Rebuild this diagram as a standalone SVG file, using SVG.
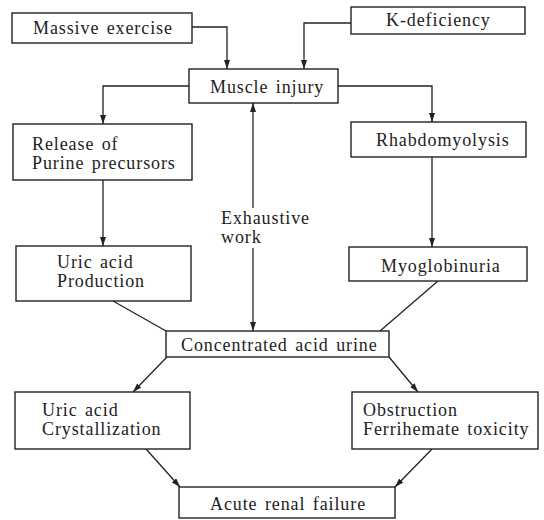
<svg xmlns="http://www.w3.org/2000/svg" width="544" height="520" viewBox="0 0 544 520">
<style>
.box{fill:#fff;stroke:#222;stroke-width:1.4}
.t{font-family:"Liberation Serif","Times New Roman",serif;font-size:18px;letter-spacing:0.9px;word-spacing:2px;fill:#222}
.c{fill:none;stroke:#222;stroke-width:1.3}
</style>
<defs>
<marker id="ah" markerUnits="userSpaceOnUse" markerWidth="9" markerHeight="6" refX="9" refY="3" orient="auto">
<path d="M0,0 L9,3 L0,6 z" fill="#222"/>
</marker>
</defs>
<rect width="544" height="520" fill="#fff"/>
<g id="connectors">
<path class="c" d="M192,27 H227 V69" marker-end="url(#ah)"/>
<path class="c" d="M351,23 H304 V69" marker-end="url(#ah)"/>
<path class="c" d="M189,86 H103 V124" marker-end="url(#ah)"/>
<path class="c" d="M338,86 H432 V122" marker-end="url(#ah)"/>
<path class="c" d="M103,180 V246" marker-end="url(#ah)"/>
<path class="c" d="M432,157 V247" marker-end="url(#ah)"/>
<path class="c" d="M253,208 V103" marker-end="url(#ah)"/>
<path class="c" d="M253,248 V331" marker-end="url(#ah)"/>
<path class="c" d="M113,301 L166,331"/>
<path class="c" d="M438,281 L380,331"/>
<path class="c" d="M167,357 L133,392" marker-end="url(#ah)"/>
<path class="c" d="M389,357 L418,392" marker-end="url(#ah)"/>
<path class="c" d="M146,449 L180,487" marker-end="url(#ah)"/>
<path class="c" d="M432,449 L395,487" marker-end="url(#ah)"/>
</g>
<g id="massive-exercise"><rect class="box" x="12" y="13" width="180" height="30"/><text class="t" x="33" y="34">Massive exercise</text></g>
<g id="k-deficiency"><rect class="box" x="351" y="7" width="174" height="27"/><text class="t" x="386" y="26">K-deficiency</text></g>
<g id="muscle-injury"><rect class="box" x="189" y="69" width="149" height="34"/><text class="t" x="210" y="93">Muscle injury</text></g>
<g id="release"><rect class="box" x="13" y="124" width="179" height="56"/><text class="t" x="32" y="150">Release of</text><text class="t" x="32" y="169">Purine precursors</text></g>
<g id="rhabdomyolysis"><rect class="box" x="351" y="122" width="175" height="35"/><text class="t" x="376" y="146">Rhabdomyolysis</text></g>
<g id="exhaustive-work"><text class="t" x="221" y="224">Exhaustive</text><text class="t" x="221" y="243">work</text></g>
<g id="uric-production"><rect class="box" x="16" y="246" width="175" height="55"/><text class="t" x="57" y="268">Uric acid</text><text class="t" x="57" y="287">Production</text></g>
<g id="myoglobinuria"><rect class="box" x="349" y="247" width="178" height="34"/><text class="t" x="381" y="272">Myoglobinuria</text></g>
<g id="concentrated"><rect class="box" x="166" y="331" width="223" height="26"/><text class="t" x="181" y="351">Concentrated acid urine</text></g>
<g id="crystallization"><rect class="box" x="15" y="392" width="175" height="57"/><text class="t" x="42" y="416">Uric acid</text><text class="t" x="42" y="435">Crystallization</text></g>
<g id="obstruction"><rect class="box" x="352" y="392" width="186" height="57"/><text class="t" x="363" y="416">Obstruction</text><text class="t" x="363" y="435">Ferrihemate toxicity</text></g>
<g id="acute-renal-failure"><rect class="box" x="179" y="487" width="216" height="31"/><text class="t" x="210" y="510">Acute renal failure</text></g>
</svg>
